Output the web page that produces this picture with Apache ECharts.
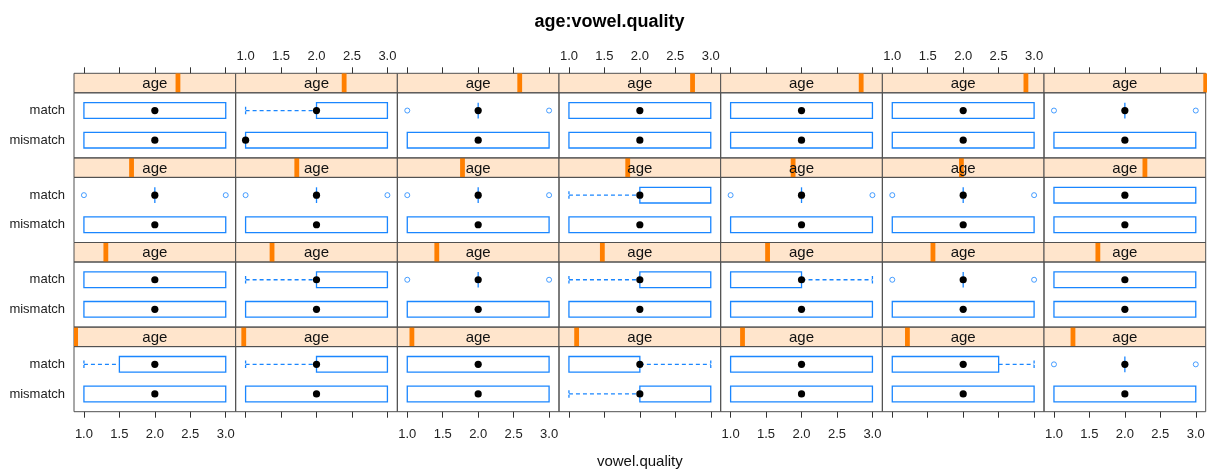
<!DOCTYPE html>
<html>
<head>
<meta charset="utf-8">
<script src="https://cdn.jsdelivr.net/npm/echarts@6/dist/echarts.min.js"></script>
<style>
html, body { margin: 0; padding: 0; background: #fff; }
#main { width: 1219px; height: 475px; }
</style>
</head>
<body>
<div id="main"></div>
<script>
// groups on the y axis (bottom to top) and x tick values
var groups = ['mismatch', 'match'];
var xTicks = [1, 1.5, 2, 2.5, 3];

// one entry per age level, level 1 first (lattice order: bottom-left, then right, then up)
// relative position of the age value inside the strip (0 = youngest, 1 = oldest)
var agePos = [
  0.01, 0.05, 0.09, 0.109, 0.135, 0.155, 0.179,
  0.197, 0.225, 0.244, 0.268, 0.29, 0.313, 0.333,
  0.356, 0.378, 0.403, 0.425, 0.448, 0.489, 0.624,
  0.643, 0.671, 0.757, 0.826, 0.869, 0.888, 1.0
];

// [min, q1, median, q3, max]
var matchStats = [
  [1, 1.5, 2, 3, 3], [1, 2, 2, 3, 3], [1, 1, 2, 3, 3], [1, 1, 2, 2, 3], [1, 1, 2, 3, 3], [1, 1, 2, 2.5, 3], [2, 2, 2, 2, 2],
  [1, 1, 2, 3, 3], [1, 2, 2, 3, 3], [2, 2, 2, 2, 2], [1, 2, 2, 3, 3], [1, 1, 2, 2, 3], [2, 2, 2, 2, 2], [1, 1, 2, 3, 3],
  [2, 2, 2, 2, 2], [2, 2, 2, 2, 2], [2, 2, 2, 2, 2], [1, 2, 2, 3, 3], [2, 2, 2, 2, 2], [2, 2, 2, 2, 2], [1, 1, 2, 3, 3],
  [1, 1, 2, 3, 3], [1, 2, 2, 3, 3], [2, 2, 2, 2, 2], [1, 1, 2, 3, 3], [1, 1, 2, 3, 3], [1, 1, 2, 3, 3], [2, 2, 2, 2, 2]
];
var matchOut = [
  [], [], [], [], [], [], [1, 3],
  [], [], [1, 3], [], [], [1, 3], [],
  [1, 3], [1, 3], [1, 3], [], [1, 3], [1, 3], [],
  [], [], [1, 3], [], [], [], [1, 3]
];
var mismatchStats = [
  [1, 1, 2, 3, 3], [1, 1, 2, 3, 3], [1, 1, 2, 3, 3], [1, 2, 2, 3, 3], [1, 1, 2, 3, 3], [1, 1, 2, 3, 3], [1, 1, 2, 3, 3],
  [1, 1, 2, 3, 3], [1, 1, 2, 3, 3], [1, 1, 2, 3, 3], [1, 1, 2, 3, 3], [1, 1, 2, 3, 3], [1, 1, 2, 3, 3], [1, 1, 2, 3, 3],
  [1, 1, 2, 3, 3], [1, 1, 2, 3, 3], [1, 1, 2, 3, 3], [1, 1, 2, 3, 3], [1, 1, 2, 3, 3], [1, 1, 2, 3, 3], [1, 1, 2, 3, 3],
  [1, 1, 2, 3, 3], [1, 1, 1, 3, 3], [1, 1, 2, 3, 3], [1, 1, 2, 3, 3], [1, 1, 2, 3, 3], [1, 1, 2, 3, 3], [1, 1, 2, 3, 3]
];

var font = "'Liberation Sans', Arial, sans-serif";
var blue = '#1a86ff';
var frameCol = '#505050';

// layout of the panel block
var L = 74, R = 1205.7, T = 73.3, B = 411.7;
var nCol = 7, nRow = 4;
var colW = (R - L) / nCol, rowH = (B - T) / nRow, stripH = 19.5;

function renderBox(params, api) {
  var cat = api.value(0);
  var lo = api.value(1), q1 = api.value(2), med = api.value(3), q3 = api.value(4), hi = api.value(5);
  var yc = api.coord([med, cat])[1];
  var h = api.size([0, 1])[1] * 0.53;
  var px = function (v) { return api.coord([v, cat])[0]; };
  var dash = { stroke: blue, lineWidth: 1.3, lineDash: [4, 3], fill: null };
  var endDash = { stroke: blue, lineWidth: 1.3, lineDash: [3, 1.5] };
  var kids = [];
  if (lo < q1) {
    kids.push({ type: 'line', shape: { x1: px(lo), y1: yc, x2: px(q1), y2: yc }, style: dash });
    kids.push({ type: 'line', shape: { x1: px(lo), y1: yc - 3.8, x2: px(lo), y2: yc + 3.8 }, style: endDash });
  }
  if (hi > q3) {
    kids.push({ type: 'line', shape: { x1: px(q3), y1: yc, x2: px(hi), y2: yc }, style: dash });
    kids.push({ type: 'line', shape: { x1: px(hi), y1: yc - 3.8, x2: px(hi), y2: yc + 3.8 }, style: endDash });
  }
  if (q3 > q1) {
    kids.push({ type: 'rect', shape: { x: px(q1), y: yc - h / 2, width: px(q3) - px(q1), height: h }, style: { stroke: blue, lineWidth: 1.3, fill: null } });
  } else {
    kids.push({ type: 'line', shape: { x1: px(q1), y1: yc - h / 2, x2: px(q1), y2: yc + h / 2 }, style: { stroke: blue, lineWidth: 1.3 } });
  }
  kids.push({ type: 'circle', shape: { cx: px(med), cy: yc, r: 3.6 }, style: { fill: '#000' } });
  return { type: 'group', children: kids };
}

function renderStrip(params, api) {
  var pt = api.coord([api.value(0), 0]);
  var top = api.coord([0, 1])[1];
  var bot = api.coord([0, 0])[1];
  var mid = api.coord([0.5, 0])[0];
  return {
    type: 'group',
    children: [
      { type: 'rect', shape: { x: pt[0] - 2.4, y: top, width: 4.8, height: bot - top }, style: { fill: '#ff7f00' } },
      { type: 'text', style: { text: 'age', x: mid, y: (top + bot) / 2 + 1, align: 'center', verticalAlign: 'middle', textAlign: 'center', textVerticalAlign: 'middle', font: '15px ' + font, fill: '#111' } }
    ]
  };
}

var grid = [], xAxis = [], yAxis = [], series = [], graphic = [];

for (var i = 0; i < agePos.length; i++) {
  var col = i % nCol, row = nRow - 1 - Math.floor(i / nCol);
  var x0 = L + col * colW, sTop = T + row * rowH, pTop = sTop + stripH, pH = rowH - stripH;
  var unit = pH / 2.2;
  var isTop = row === 0, isBot = row === nRow - 1;

  // strip
  var g = grid.length;
  grid.push({ left: x0, top: sTop, width: colW, height: stripH, show: true, backgroundColor: '#ffe5cc', borderColor: frameCol, borderWidth: 1, outerBoundsMode: 'none' });
  xAxis.push({ gridIndex: g, type: 'value', min: 0, max: 1, show: false });
  yAxis.push({ gridIndex: g, type: 'value', min: 0, max: 1, show: false });
  series.push({ type: 'custom', xAxisIndex: g, yAxisIndex: g, clip: true, silent: true, data: [[agePos[i], 0]], renderItem: renderStrip });

  // panel
  g = grid.length;
  grid.push({ left: x0, top: pTop + 0.1 * unit, width: colW, height: 2 * unit, outerBoundsMode: 'none' });
  xAxis.push({
    gridIndex: g, type: 'value', min: 0.86, max: 3.14,
    show: isTop || isBot,
    position: isTop ? 'top' : 'bottom',
    offset: isTop ? 0.1 * unit + stripH : 0.1 * unit,
    axisLine: { show: false },
    splitLine: { show: false },
    axisTick: { show: true, length: 6, customValues: xTicks, lineStyle: { color: '#333' } },
    axisLabel: {
      show: isTop ? col % 2 === 1 : col % 2 === 0,
      customValues: xTicks, margin: isTop ? 10 : 16,
      fontSize: 13, color: '#222', fontFamily: font,
      formatter: function (v) { return v.toFixed(1); }
    }
  });
  yAxis.push({
    gridIndex: g, type: 'category', data: groups,
    axisLine: { show: false }, axisTick: { show: false }, splitLine: { show: false },
    axisLabel: { show: col === 0, margin: 9, fontSize: 13, color: '#222', fontFamily: font }
  });
  series.push({
    type: 'custom', xAxisIndex: g, yAxisIndex: g, silent: true,
    data: [[0].concat(mismatchStats[i]), [1].concat(matchStats[i])],
    renderItem: renderBox
  });
  series.push({
    type: 'scatter', xAxisIndex: g, yAxisIndex: g, silent: true,
    symbol: 'circle', symbolSize: 5,
    itemStyle: { color: '#fff', borderColor: blue, borderWidth: 1 },
    data: matchOut[i].map(function (v) { return [v, 1]; })
  });

  graphic.push({ type: 'rect', silent: true, z: 50, shape: { x: x0, y: pTop, width: colW, height: pH }, style: { fill: null, stroke: frameCol, lineWidth: 1 } });
}

graphic.push({
  type: 'text', silent: true,
  style: { text: 'vowel.quality', x: (L + R) / 2, y: 461.5, align: 'center', verticalAlign: 'middle', textAlign: 'center', textVerticalAlign: 'middle', font: '15px ' + font, fill: '#111' }
});

var chart = echarts.init(document.getElementById('main'));
chart.setOption({
  animation: false,
  backgroundColor: '#fff',
  textStyle: { fontFamily: font },
  title: {
    text: 'age:vowel.quality', left: 'center', top: 8,
    textStyle: { fontSize: 18, fontWeight: 'bold', color: '#000', fontFamily: font }
  },
  grid: grid,
  xAxis: xAxis,
  yAxis: yAxis,
  series: series,
  graphic: graphic
});
</script>
</body>
</html>
